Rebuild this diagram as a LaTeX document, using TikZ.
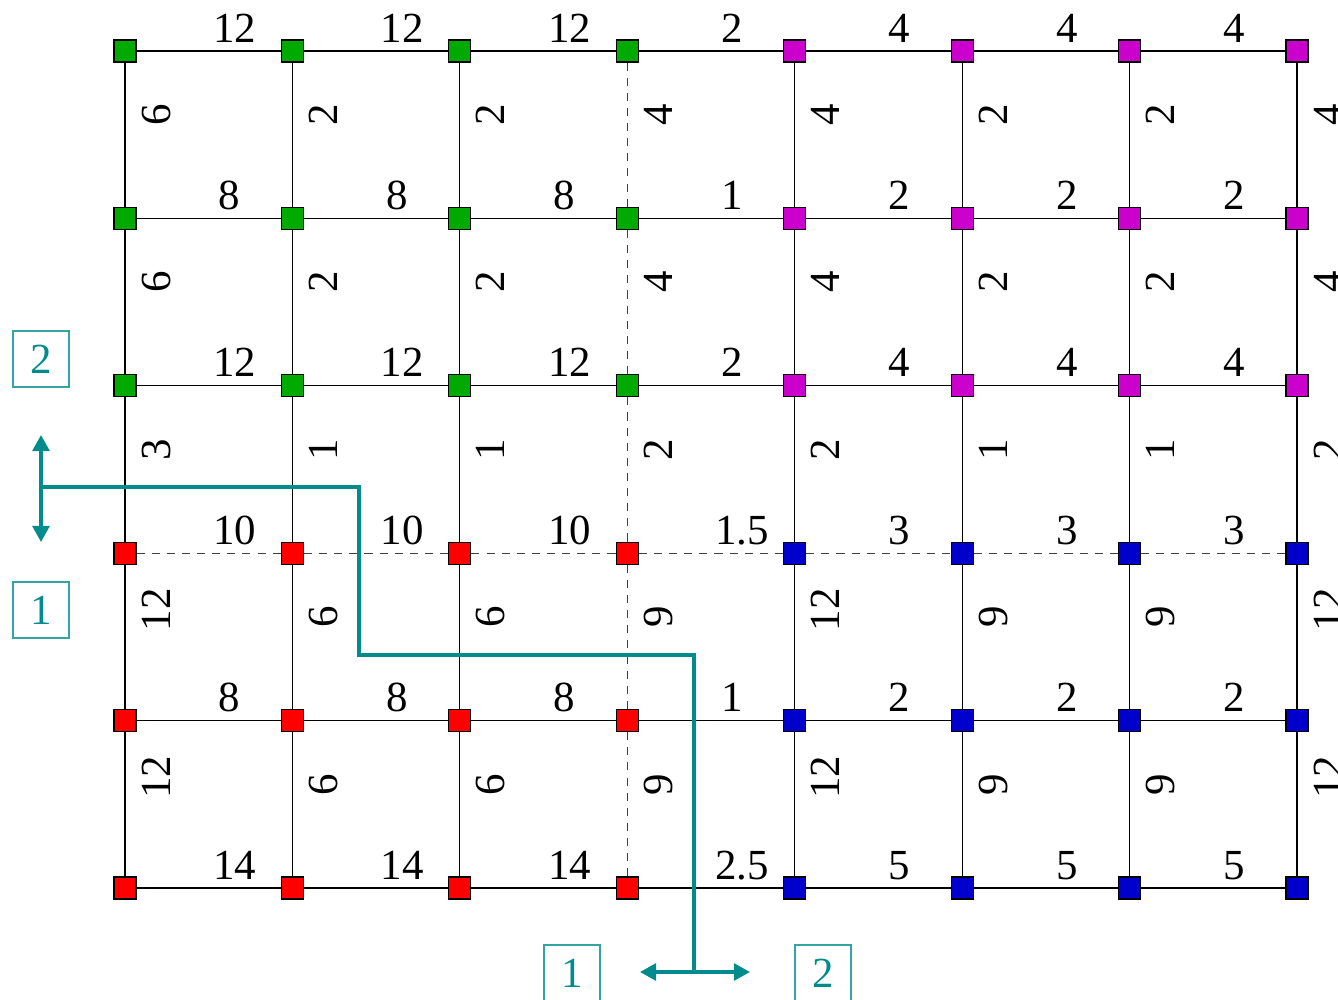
\documentclass[tikz,border=0pt]{standalone}
\usepackage{fontspec}
\setmainfont{Liberation Serif}
\usetikzlibrary{arrows.meta}
\definecolor{ngreen}{RGB}{0,170,0}
\definecolor{nmag}{RGB}{204,0,204}
\definecolor{nred}{RGB}{255,0,0}
\definecolor{nblue}{RGB}{0,0,204}
\definecolor{cutc}{RGB}{0,140,140}
\begin{document}
\begin{tikzpicture}[x=0.01cm,y=-0.01cm,
  vtx/.style={draw=black, line width=0.3pt, minimum size=0.22cm, inner sep=0pt, rectangle},
  edge/.style={line width=0.35pt, black},
  dashedge/.style={line width=0.35pt, black!75, dash pattern=on 2.3pt off 2pt},
  lab/.style={font=\fontsize{12.2}{14}\selectfont, inner sep=0pt, anchor=base},
  vlab/.style={lab, rotate=90},
  cutline/.style={cutc, line width=1pt},
  arr/.style={cutline, {Triangle[length=4.6pt,width=4.8pt]}-{Triangle[length=4.6pt,width=4.8pt]}},
  cutbox/.style={draw=cutc!80, line width=0.4pt, text=cutc, minimum size=0.56cm, inner sep=0pt, font=\fontsize{12.2}{14}\selectfont}
]
\useasboundingbox (0,0) rectangle (1338,1000);
\clip (0,0) rectangle (1338,1000);
% vertices
\foreach \i in {0,...,7}{
  \foreach \j in {0,...,5}{
    \ifnum\j<3 \ifnum\i<4 \def\cc{ngreen}\else\def\cc{nmag}\fi
    \else \ifnum\i<4 \def\cc{nred}\else\def\cc{nblue}\fi\fi
    \node[vtx, fill=\cc] (n-\i-\j) at ({125+167.43*\i},{51+167.4*\j}) {};
  }
}
% horizontal edges
\foreach \j in {0,...,5}{
  \foreach \i [evaluate=\i as \k using int(\i+1)] in {0,...,6}{
    \ifnum\j=3 \def\es{dashedge}\else\def\es{edge}\fi
    \draw[\es] (n-\i-\j) -- (n-\k-\j);
  }
}
% vertical edges
\foreach \i in {0,...,7}{
  \foreach \j [evaluate=\j as \k using int(\j+1)] in {0,...,4}{
    \ifnum\i=3 \def\es{dashedge}\else\def\es{edge}\fi
    \draw[\es] (n-\i-\j) -- (n-\i-\k);
  }
}
% horizontal labels
\foreach \j/\row in {
  0/{12/26,12/26,12/26,2/21,4/21,4/21,4/21},
  1/{8/21,8/21,8/21,1/21,2/21,2/21,2/21},
  2/{12/26,12/26,12/26,2/21,4/21,4/21,4/21},
  3/{10/26,10/26,10/26,1.5/31,3/21,3/21,3/21},
  4/{8/21,8/21,8/21,1/21,2/21,2/21,2/21},
  5/{14/26,14/26,14/26,2.5/31,5/21,5/21,5/21}}{
  \foreach \t/\d [count=\i from 0] in \row {
    \node[lab] (h-\i-\j) at ({125+167.43*\i+83.7+\d},{51+167.4*\j-9}) {\t};
  }
}
% vertical labels
\foreach \j/\row in {
  0/{6/20,2/20,2/20,4/20,4/20,2/20,2/20,4/20},
  1/{6/20,2/20,2/20,4/20,4/20,2/20,2/20,4/20},
  2/{3/20,1/20,1/20,2/20,2/20,1/20,1/20,2/20},
  3/{12/27,6/20,6/20,9/20,12/27,9/20,9/20,12/27},
  4/{12/27,6/20,6/20,9/20,12/27,9/20,9/20,12/27}}{
  \foreach \t/\d [count=\i from 0] in \row {
    \node[vlab] (v-\i-\j) at ({125+167.43*\i+45},{51+167.4*\j+83.7-\d}) {\t};
  }
}
% cut
\node[cutbox] (b2l) at (41,359) {2};
\node[cutbox] (b1l) at (41,610) {1};
\node[cutbox] (b1b) at (572,973) {1};
\node[cutbox] (b2b) at (823,973) {2};
\coordinate (au) at (41,435);
\coordinate (ad) at (41,542);
\coordinate (p0) at (41,487);
\coordinate (p1) at (359,487);
\coordinate (p2) at (359,655);
\coordinate (p3) at (694,655);
\coordinate (p4) at (694,972);
\coordinate (al) at (640,972);
\coordinate (ar) at (750,972);
\draw[arr] (au) -- (ad);
\draw[cutline] (p0) -- (p1) -- (p2) -- (p3) -- (p4);
\draw[arr] (al) -- (ar);
\end{tikzpicture}
\end{document}
